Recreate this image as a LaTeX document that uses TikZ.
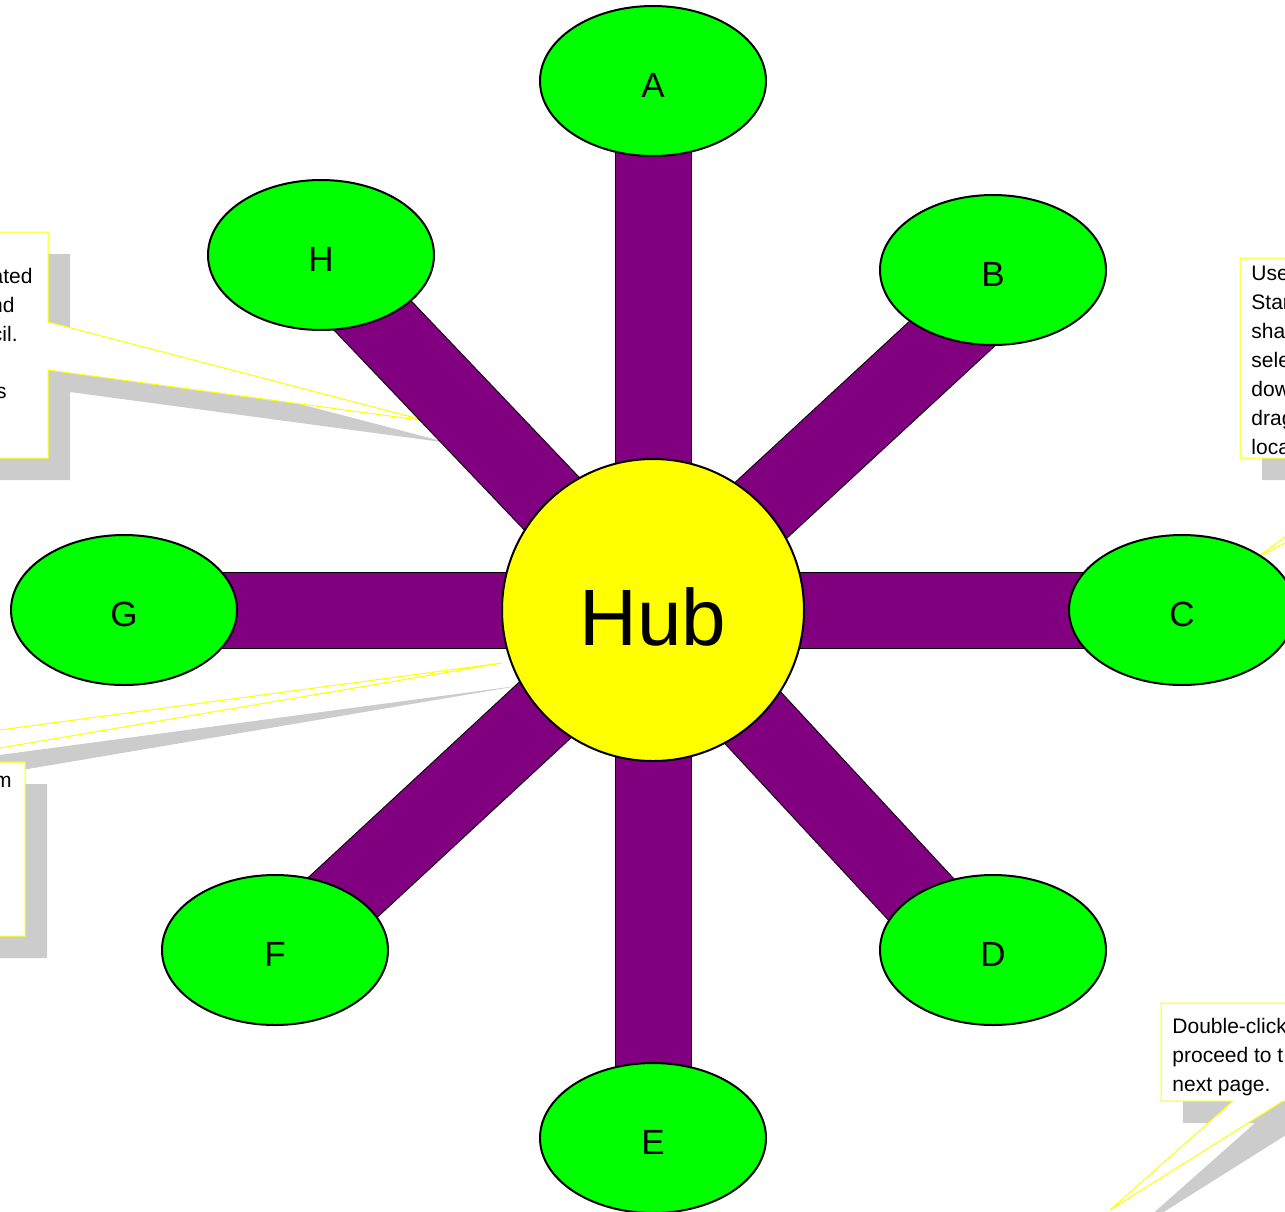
\documentclass[tikz,border=0pt]{standalone}
\usepackage{fontspec}
\setmainfont{Liberation Sans}
\usetikzlibrary{shapes.geometric}

\definecolor{hubyellow}{RGB}{255,255,0}
\definecolor{leafgreen}{RGB}{0,255,0}
\definecolor{spokepurple}{RGB}{128,0,128}
\definecolor{calloutyellow}{RGB}{255,255,0}
\definecolor{calloutgray}{RGB}{204,204,204}

\pgfdeclarelayer{notes}
\pgfdeclarelayer{links}
\pgfsetlayers{notes,links,main}

\begin{document}
\begin{tikzpicture}[x=0.5pt, y=-0.5pt,
    hub/.style={circle, draw, line width=1pt, fill=hubyellow, minimum size=151pt, inner sep=0pt, text height=35.6pt, font=\fontsize{40}{48}\selectfont},
    leaf/.style={ellipse, draw, line width=1pt, fill=leafgreen, minimum width=113pt, minimum height=75pt, inner sep=0pt, text height=16.5pt, font=\fontsize{17.5}{21}\selectfont},
    spoke/.style={draw=black, line width=0.5pt, double=spokepurple, double distance=37.5pt},
    callout/.style={draw=calloutyellow, line width=0.5pt, fill=white},
    calloutshade/.style={fill=calloutgray, shift={(22,22)}},
    note/.style={inner sep=0pt, align=left, font=\fontsize{10.5}{14.5}\selectfont}
]

\useasboundingbox (0,0) rectangle (1285,1211);
\clip (0,0) rectangle (1285,1211);

% hub and its eight ends
\node[hub] (hub) at (653,610) {Hub};

\node[leaf] (A) at (653,81)   {A};
\node[leaf] (B) at (993,270)  {B};
\node[leaf] (C) at (1182,610) {C};
\node[leaf] (D) at (993,950)  {D};
\node[leaf] (E) at (653,1138) {E};
\node[leaf] (F) at (275,950)  {F};
\node[leaf] (G) at (124,610)  {G};
\node[leaf] (H) at (321,255)  {H};

% spokes, behind the shapes
\begin{pgfonlayer}{links}
\draw[spoke] (hub.center) -- (A.center);
\draw[spoke] (hub.center) -- ([xshift=14pt]B.center);
\draw[spoke] (hub.center) -- (C.center);
\draw[spoke] (hub.center) -- ([xshift=-12.5pt]D.center);
\draw[spoke] (hub.center) -- (E.center);
\draw[spoke] (hub.center) -- ([xshift=5.5pt]F.center);
\draw[spoke] (hub.center) -- (G.center);
\draw[spoke] (hub.center) -- ([xshift=-3pt]H.center);
\end{pgfonlayer}

% callouts, cut by the page edge
\begin{pgfonlayer}{notes}
\clip (0,0) rectangle (1285,1211);

% upper left
\fill[calloutshade] (-250,232) -- (48,232) -- (48,322) -- (427,421) -- (48,370) -- (48,458) -- (-250,458) -- cycle;
\draw[callout] (-250,232) -- (48,232) -- (48,322) -- (427,421) -- (48,370) -- (48,458) -- (-250,458) -- cycle;
\node[note, anchor=base east] (tl1) at (33,283) {ated};
\node[note, anchor=base east] (tl2) at (15,312) {nd};
\node[note, anchor=base east] (tl3) at (18,341) {cil.};
\node[note, anchor=base east] (tl4) at (7,398)  {s};

% lower left
\fill[calloutshade] (-250,762) -- (-240,762) -- (502,663) -- (-83,762) -- (25,762) -- (25,936) -- (-250,936) -- cycle;
\draw[callout] (-250,762) -- (-240,762) -- (502,663) -- (-83,762) -- (25,762) -- (25,936) -- (-250,936) -- cycle;
\node[note, anchor=base east] (bl1) at (12,787) {m};

% right, pointing at C
\fill[calloutshade] (1240,258) -- (1500,258) -- (1500,458) -- (1449,458) -- (1258,557) -- (1392,458) -- (1240,458) -- cycle;
\draw[callout] (1240,258) -- (1500,258) -- (1500,458) -- (1449,458) -- (1258,557) -- (1392,458) -- (1240,458) -- cycle;
\node[note, anchor=north west] (rt) at (1251,266)
{Use\\Star\\sha\\sele\\dow\\drag\\loca};

% lower right
\fill[calloutshade] (1161,1003) -- (1500,1003) -- (1500,1101) -- (1283,1101) -- (1110,1210) -- (1233,1101) -- (1161,1101) -- cycle;
\draw[callout] (1161,1003) -- (1500,1003) -- (1500,1101) -- (1283,1101) -- (1110,1210) -- (1233,1101) -- (1161,1101) -- cycle;
\node[note, anchor=north west] (br) at (1172,1018)
{Double-click\\proceed to t\\next page.};
\end{pgfonlayer}

\end{tikzpicture}
\end{document}
